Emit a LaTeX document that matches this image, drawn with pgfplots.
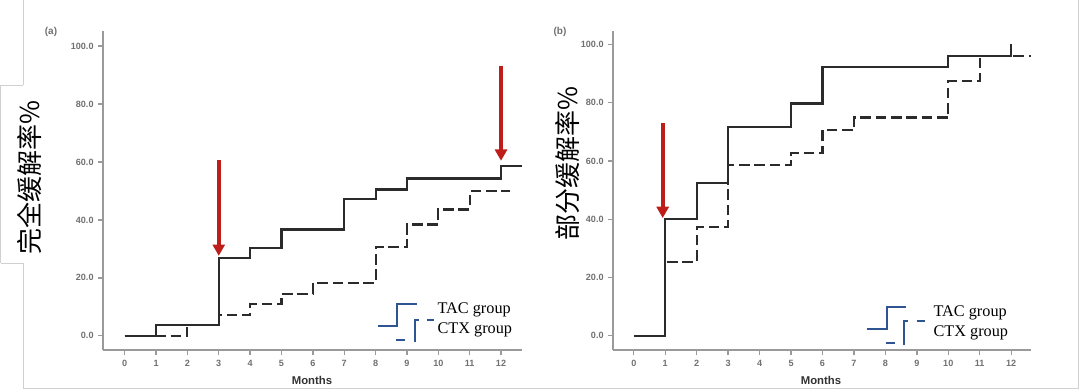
\documentclass[border=0pt]{standalone}
\usepackage{pgfplots}
\pgfplotsset{compat=1.18}
\usepackage{fontspec}
\setmainfont{Liberation Serif}
\setsansfont{Liberation Sans}
\newfontfamily\cjk{Noto Sans CJK SC}
\usetikzlibrary{arrows.meta}
\definecolor{arrowred}{HTML}{BE1E1A}
\definecolor{legblue}{HTML}{2E5592}
\definecolor{axgray}{HTML}{9A9A9A}
\definecolor{tickgray}{HTML}{707070}
\definecolor{linegray}{HTML}{2B2B2B}
\definecolor{framegray}{HTML}{D0D0D0}
\tikzset{
  solidkm/.style={const plot, linegray, line width=1.6pt},
  dashkm/.style={const plot, linegray, line width=1.6pt, dash pattern=on 8pt off 3.5pt},
  redarrow/.style={arrowred, line width=3pt, -{Triangle[width=9pt,length=8.5pt]}},
}
\pgfplotsset{km/.style={
  scale only axis,
  axis x line=bottom, axis y line=left,
  axis line style={-, axgray, line width=1.3pt},
  tick style={axgray, line width=1pt},
  major tick length=3.8pt, tick align=outside,
  xtick={0,...,12}, ytick={0,20,...,100},
  yticklabel style={/pgf/number format/.cd, fixed, zerofill, precision=1},
  ticklabel style={font=\sffamily\bfseries\fontsize{6.8}{7}\selectfont, text=tickgray},
  /pgf/number format/assume math mode=true,
  clip=false,
}}
\begin{document}
\begin{tikzpicture}
% frames
\begin{scope}[x=0.75pt,y=0.75pt]
\useasboundingbox (0,0) rectangle (1080,390);
\draw[framegray, line width=0.75pt] (23.4,390) -- (23.4,305) (23.4,127) -- (23.4,2) -- (1078,2) -- (1078,390);
\draw[framegray, line width=0.75pt] (0.5,305) -- (23.4,305) (0.5,127) -- (23.4,127);
\draw[framegray, line width=0.5pt] (0.5,305) -- (0.5,127);
\end{scope}

% ---------- panel (a)
\begin{axis}[km, at={(77.5pt,30pt)}, anchor=south west,
  width=313.8pt, height=239.25pt,
  xmin=-0.68, xmax=12.66, ymin=-4.9, ymax=105.2]
\addplot[dashkm] coordinates {(0,0)(2,3.7)(3,7.1)(4,10.9)(5,14.5)(6,18.2)(8,30.7)(9,38.4)(10,43.6)(11,49.9)(12.27,49.9)};
\addplot[solidkm] coordinates {(0,0)(1,3.7)(3,27.0)(4,30.4)(5,36.7)(7,47.1)(8,50.5)(9,54.3)(12,58.7)(12.66,58.7)};
\draw[redarrow] (axis cs:3,60.6) -- (axis cs:3,27.6);
\draw[redarrow] (axis cs:12,93.1) -- (axis cs:12,60.4);
\end{axis}

% ---------- panel (b)
\begin{axis}[km, at={(460pt,30pt)}, anchor=south west,
  width=313pt, height=239.25pt,
  xmin=-0.65, xmax=12.62, ymin=-4.9, ymax=104.6]
\addplot[dashkm] coordinates {(0,0)(1,25.4)(2,37.4)(3,58.6)(5,62.8)(6,70.6)(7,74.9)(10,87.5)(11,96.0)(12.62,96.0)};
\addplot[solidkm] coordinates {(0,0)(1,40.0)(2,52.4)(3,71.6)(5,79.7)(6,92.1)(10,96.0)(12,100)};
\draw[redarrow] (axis cs:0.92,73) -- (axis cs:0.92,40.4);
\end{axis}

\begin{scope}[x=0.75pt,y=0.75pt]
% panel letters
\node[font=\sffamily\bfseries\fontsize{7.5}{8}\selectfont, text=tickgray] at (51,358) {(a)};
\node[font=\sffamily\bfseries\fontsize{7.5}{8}\selectfont, text=tickgray] at (560,358) {(b)};
% x labels
\node[font=\sffamily\bfseries\fontsize{8.5}{9}\selectfont, text=black!80] at (312,10) {Months};
\node[font=\sffamily\bfseries\fontsize{8.5}{9}\selectfont, text=black!80] at (821,10) {Months};
% y labels
\node[rotate=90, font=\cjk\fontsize{19.5}{20}\selectfont, fill=white, inner sep=1pt] at (30,212) {完全缓解率\%};
\node[rotate=90, font=\cjk\fontsize{19.5}{20}\selectfont] at (568,226) {部分缓解率\%};
% legend (a)
\draw[legblue, line width=1.5pt] (378.3,64) -- (396.7,64) -- (396.7,86) -- (416.7,86);
\draw[legblue, line width=1.5pt] (396,50) -- (405,50);
\draw[legblue, line width=1.5pt] (415,48.5) -- (415,70) -- (419.3,70);
\draw[legblue, line width=1.5pt] (426.7,70) -- (434,70);
\node[anchor=west, font=\fontsize{12.2}{13}\selectfont, inner sep=0pt] at (437.3,80) {TAC group};
\node[anchor=west, font=\fontsize{12.2}{13}\selectfont, inner sep=0pt] at (437.3,60) {CTX group};
% legend (b)
\draw[legblue, line width=1.5pt] (866.7,61.3) -- (886.7,61.3) -- (886.7,83.3) -- (905.7,83.3);
\draw[legblue, line width=1.5pt] (885.7,46.7) -- (895,46.7);
\draw[legblue, line width=1.5pt] (904,45) -- (904,69) -- (908,69);
\draw[legblue, line width=1.5pt] (916.7,69) -- (925,69);
\node[anchor=west, font=\fontsize{12.2}{13}\selectfont, inner sep=0pt] at (933.3,77.3) {TAC group};
\node[anchor=west, font=\fontsize{12.2}{13}\selectfont, inner sep=0pt] at (933.3,57.3) {CTX group};
\end{scope}
\end{tikzpicture}
\end{document}
